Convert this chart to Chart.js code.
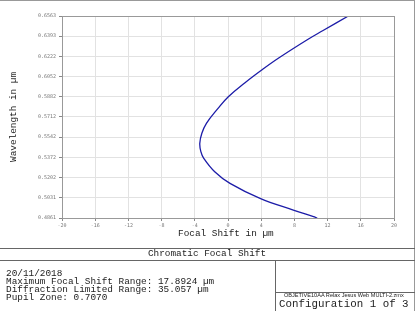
<!DOCTYPE html>
<html>
<head>
<meta charset="utf-8">
<script src="https://cdn.jsdelivr.net/npm/chart.js@4/dist/chart.umd.min.js"></script>
<style>
  html,body{margin:0;padding:0;background:#fff;}
  #wrap{position:relative;width:416px;height:311px;overflow:hidden;background:#fff;font-family:"Liberation Mono",monospace;color:#222;}
  #cv{position:absolute;left:0;top:0;}
  .ln{position:absolute;background:#666;}
  .t{position:absolute;white-space:nowrap;font-size:9.4px;line-height:8px;}
</style>
</head>
<body>
<div id="wrap">
  <canvas id="cv" width="416" height="245"></canvas>
  <!-- 外框 -->
  <div class="ln" style="left:0;top:0;width:415px;height:1px;background:#999"></div>
  <div class="ln" style="left:414px;top:0;width:1px;height:311px;background:#999"></div>
  <div class="ln" style="left:0;top:248px;width:415px;height:1px"></div>
  <div class="ln" style="left:0;top:260px;width:415px;height:1px"></div>
  <div class="ln" style="left:275px;top:260px;width:1px;height:51px"></div>
  <div class="ln" style="left:275px;top:292px;width:140px;height:1px"></div>
  <!-- 軸標題 -->
  <div class="t" style="left:178px;top:230px">Focal Shift in µm</div>
  <div class="t" style="left:14px;top:117px;transform:translate(-50%,-50%) rotate(-90deg)">Wavelength in µm</div>
  <!-- 下方說明 -->
  <div class="t" style="left:0;width:414px;text-align:center;top:250px">Chromatic Focal Shift</div>
  <div class="t" style="left:6px;top:270px">20/11/2018<br>Maximum Focal Shift Range: 17.8924 µm<br>Diffraction Limited Range: 35.057 µm<br>Pupil Zone: 0.7070</div>
  <div class="t" style="left:284px;top:291px;font-size:6px;font-family:'Liberation Sans',sans-serif;transform:scaleX(0.93);transform-origin:left center">OBJETIVE10AA Relax Jesus Web MULTI-2.zmx</div>
  <div class="t" style="left:279px;top:299px;font-size:10.8px;line-height:10px">Configuration 1 of 3</div>
</div>
<script>
// 波長刻度
const yTicks = [0.4861,0.5031,0.5202,0.5372,0.5542,0.5712,0.5882,0.6052,0.6222,0.6393,0.6563];
const xTicks = [-20,-16,-12,-8,-4,0,4,8,12,16,20];
// 曲線（由上至下讀取）
const wavelength = [0.6563,0.6439,0.6361,0.6207,0.6108,0.6001,0.5883,0.5785,0.5659,0.5575,0.5490,0.5420,0.5364,0.5251,0.5153,0.5027,0.4928,0.4872,0.4861];
const focalShift = [14.5,11.4,9.5,6.06,4.06,2.05,0.04,-1.2,-2.6,-3.15,-3.4,-3.27,-2.92,-1.6,0.24,3.86,7.87,10.3,10.75];

const pts = focalShift.map((x,i)=>({x, y:wavelength[i]}));
const tickFont = {family:'DejaVu Sans Mono', size:5};

new Chart(document.getElementById('cv'),{
  type:'scatter',
  data:{datasets:[{
    data:pts, showLine:true, tension:0.4,
    borderColor:'#1c1ca8', borderWidth:1.3, pointRadius:0, fill:false
  }]},
  options:{
    responsive:false, animation:false, events:[],
    layout:{padding:{left:0,top:16,right:22,bottom:0}},
    plugins:{legend:{display:false},tooltip:{enabled:false}},
    scales:{
      x:{
        type:'linear', min:-20, max:20,
        afterBuildTicks:s=>{ s.ticks = xTicks.map(v=>({value:v})); },
        afterFit:s=>{ s.height = 27; },
        ticks:{font:tickFont, color:'#777', padding:2, maxRotation:0, callback:v=>String(v)},
        grid:{color:'#e2e2e2', tickColor:'#888', tickLength:3, drawTicks:true},
        border:{color:'#888', width:1}
      },
      y:{
        type:'linear', min:yTicks[0], max:yTicks[yTicks.length-1],
        afterBuildTicks:s=>{ s.ticks = yTicks.map(v=>({value:v})); },
        afterFit:s=>{ s.width = 62; },
        ticks:{font:tickFont, color:'#777', padding:3, callback:v=>v.toFixed(4)},
        grid:{color:'#e2e2e2', tickColor:'#888', tickLength:3},
        border:{color:'#888', width:1}
      }
    }
  },
  plugins:[{
    id:'frame',
    afterDraw(c){
      const {ctx, chartArea:a} = c;
      ctx.save();
      ctx.strokeStyle = '#999'; ctx.lineWidth = 1;
      ctx.strokeRect(a.left+0.5, a.top+0.5, a.right-a.left, a.bottom-a.top);
      ctx.restore();
    }
  }]
});
</script>
</body>
</html>
